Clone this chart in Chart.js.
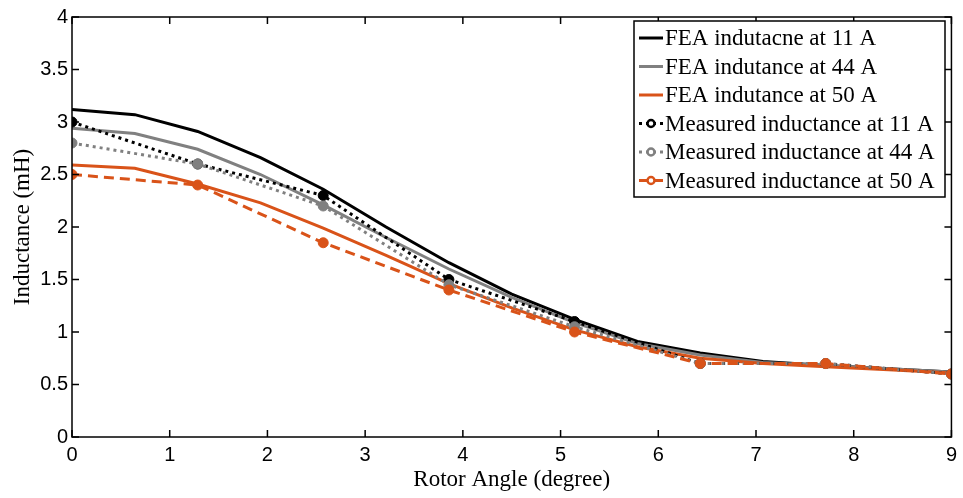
<!DOCTYPE html>
<html>
<head>
<meta charset="utf-8">
<script src="https://cdn.jsdelivr.net/npm/chart.js@4.4.1/dist/chart.umd.min.js"></script>
<style>
  body { margin: 0; background: #fff; }
</style>
</head>
<body>
<canvas id="inductance" width="963" height="498"></canvas>
<script>
// rotor angle samples (degree)
const feaAngle = [0, 0.643, 1.286, 1.929, 2.571, 3.214, 3.857, 4.5, 5.143, 5.786, 6.429, 7.071, 7.714, 8.357, 9];
const measAngle = [0, 1.286, 2.571, 3.857, 5.143, 6.429, 7.714, 9];

// inductance (mH)
const fea11 = [3.12, 3.07, 2.91, 2.66, 2.36, 2.0, 1.66, 1.36, 1.12, 0.91, 0.8, 0.72, 0.68, 0.65, 0.62];
const fea44 = [2.94, 2.89, 2.74, 2.5, 2.21, 1.9, 1.6, 1.33, 1.09, 0.89, 0.78, 0.71, 0.68, 0.65, 0.62];
const fea50 = [2.59, 2.56, 2.41, 2.23, 1.99, 1.73, 1.46, 1.23, 1.02, 0.86, 0.75, 0.7, 0.67, 0.64, 0.61];
const meas11 = [3.0, 2.6, 2.3, 1.5, 1.1, 0.7, 0.7, 0.6];
const meas44 = [2.8, 2.6, 2.2, 1.45, 1.05, 0.7, 0.7, 0.6];
const meas50 = [2.5, 2.4, 1.85, 1.4, 1.0, 0.7, 0.7, 0.6];

const labels = [
  "FEA indutacne at 11 A",
  "FEA indutance at 44 A",
  "FEA indutance at 50 A",
  "Measured inductance at 11 A",
  "Measured inductance at 44 A",
  "Measured inductance at 50 A",
];

const xTicks = [0, 1, 2, 3, 4, 5, 6, 7, 8, 9];
const yTicks = [0, 0.5, 1, 1.5, 2, 2.5, 3, 3.5, 4];

const black = "#000000";
const gray = "#808080";
const orange = "#D95319";

const toPoints = (xs, ys) => xs.map((x, i) => ({ x: x, y: ys[i] }));

const lineSet = (label, xs, ys, color, dash, marker, order) => ({
  label: label,
  data: toPoints(xs, ys),
  order: order,
  borderColor: color,
  backgroundColor: color,
  borderWidth: 3,
  borderDash: dash,
  pointRadius: marker ? 5 : 0,
  pointBorderWidth: 1,
  pointBackgroundColor: color,
  pointBorderColor: color,
  showLine: true,
  fill: false,
  tension: 0,
});

// frame with inward ticks on all four sides
const framePlugin = {
  id: "frame",
  afterDatasetsDraw(chart) {
    const { ctx, chartArea: a, scales } = chart;
    const len = 7;
    ctx.save();
    ctx.strokeStyle = "#000";
    ctx.lineWidth = 1.5;
    ctx.strokeRect(a.left, a.top, a.right - a.left, a.bottom - a.top);
    ctx.beginPath();
    xTicks.forEach((v) => {
      const px = scales.x.getPixelForValue(v);
      ctx.moveTo(px, a.bottom);
      ctx.lineTo(px, a.bottom - len);
      ctx.moveTo(px, a.top);
      ctx.lineTo(px, a.top + len);
    });
    yTicks.forEach((v) => {
      const py = scales.y.getPixelForValue(v);
      ctx.moveTo(a.left, py);
      ctx.lineTo(a.left + len, py);
      ctx.moveTo(a.right, py);
      ctx.lineTo(a.right - len, py);
    });
    ctx.stroke();
    ctx.restore();
  },
};

// legend box in the upper right corner
const legendPlugin = {
  id: "boxLegend",
  afterDraw(chart) {
    const { ctx } = chart;
    const x0 = 634, y0 = 21, w = 311, h = 176;
    const rowH = 28.5;
    ctx.save();
    ctx.fillStyle = "#fff";
    ctx.fillRect(x0, y0, w, h);
    ctx.strokeStyle = "#000";
    ctx.lineWidth = 1.5;
    ctx.strokeRect(x0, y0, w, h);
    ctx.font = '23px "Liberation Serif", "Times New Roman", serif';
    ctx.textBaseline = "middle";
    chart.data.datasets.forEach((ds, i) => {
      const cy = y0 + 17 + i * rowH;
      ctx.strokeStyle = ds.borderColor;
      ctx.lineWidth = 3;
      ctx.setLineDash(ds.borderDash || []);
      ctx.beginPath();
      ctx.moveTo(x0 + 5, cy);
      ctx.lineTo(x0 + 29, cy);
      ctx.stroke();
      ctx.setLineDash([]);
      if (ds.pointRadius > 0) {
        ctx.beginPath();
        ctx.arc(x0 + 17, cy, 3.5, 0, Math.PI * 2);
        ctx.fillStyle = "#fff";
        ctx.fill();
        ctx.lineWidth = 2.5;
        ctx.stroke();
      }
      ctx.fillStyle = "#000";
      ctx.fillText(ds.label, x0 + 31, cy + 1);
    });
    ctx.restore();
  },
};

function drawChart() {
  const canvas = document.getElementById("inductance");
  const data = {
    datasets: [
      lineSet(labels[0], feaAngle, fea11, black, [], false, 6),
      lineSet(labels[1], feaAngle, fea44, gray, [], false, 5),
      lineSet(labels[2], feaAngle, fea50, orange, [], false, 4),
      lineSet(labels[3], measAngle, meas11, black, [3, 4], true, 3),
      lineSet(labels[4], measAngle, meas44, gray, [3, 4], true, 2),
      lineSet(labels[5], measAngle, meas50, orange, [10, 6], true, 1),
    ],
  };
  const config = {
    type: "scatter",
    data: data,
    options: {
      responsive: false,
      animation: false,
      layout: { padding: { top: 17, right: 11, left: 0, bottom: 0 } },
      plugins: {
        legend: { display: false },
        tooltip: { enabled: false },
      },
      scales: {
        x: {
          type: "linear",
          min: 0,
          max: 9,
          afterFit: (s) => { s.height = 61; },
          afterBuildTicks: (s) => { s.ticks = xTicks.map((v) => ({ value: v })); },
          grid: { display: false, drawTicks: false },
          border: { display: false },
          ticks: {
            color: "#000",
            padding: 6,
            font: { family: '"Liberation Sans", Arial, sans-serif', size: 20 },
            callback: (v) => String(v),
          },
          title: {
            display: true,
            text: "Rotor Angle (degree)",
            color: "#000",
            padding: { top: 0 },
            font: { family: '"Liberation Serif", "Times New Roman", serif', size: 23 },
          },
        },
        y: {
          type: "linear",
          min: 0,
          max: 4,
          afterFit: (s) => { s.width = 72; },
          afterBuildTicks: (s) => { s.ticks = yTicks.map((v) => ({ value: v })); },
          grid: { display: false, drawTicks: false },
          border: { display: false },
          ticks: {
            color: "#000",
            padding: 4,
            font: { family: '"Liberation Sans", Arial, sans-serif', size: 20 },
            callback: (v) => String(v),
          },
          title: {
            display: true,
            text: "Inductance (mH)",
            color: "#000",
            padding: { top: 9 },
            font: { family: '"Liberation Serif", "Times New Roman", serif', size: 23 },
          },
        },
      },
    },
    plugins: [framePlugin, legendPlugin],
  };
  return new Chart(canvas, config);
}

drawChart();
</script>
</body>
</html>
